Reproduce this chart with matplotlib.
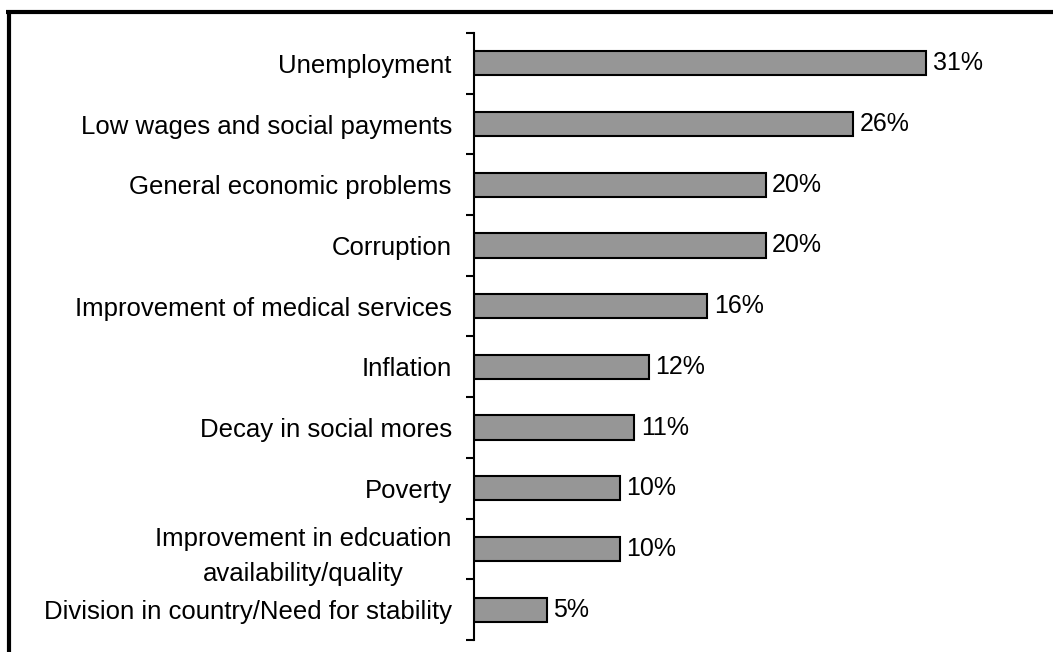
import matplotlib.pyplot as plt
from matplotlib.lines import Line2D

plt.rcParams['font.family'] = ['Liberation Sans', 'DejaVu Sans']

# Most important problems, share of respondents
categories = [
    "Unemployment",
    "Low wages and social payments",
    "General economic problems",
    "Corruption",
    "Improvement of medical services",
    "Inflation",
    "Decay in social mores",
    "Poverty",
    "Improvement in edcuation\navailability/quality",
    "Division in country/Need for stability",
]
values = [31, 26, 20, 20, 16, 12, 11, 10, 10, 5]

fig = plt.figure(figsize=(10.53, 6.52), dpi=100)
ax = fig.add_axes([474 / 1053, 1 - 640 / 652, 566 / 1053, 607 / 652])

pos = list(range(len(categories)))
ax.barh(pos, values, height=0.4, color="#969696", edgecolor="black", linewidth=1.5)
for y, v in zip(pos, values):
    ax.text(v + 0.45, y, f"{v}%", va="center", ha="left", fontsize=18)

ax.set_xlim(0, 566 / (452 / 31))
ax.set_ylim(len(categories) - 0.5, -0.5)
ax.set_yticks(pos)
ax.set_yticklabels(categories, fontsize=18.5, multialignment="center", linespacing=1.55)
ax.tick_params(axis="y", which="major", length=0, pad=16)
ax.set_yticks([p - 0.5 for p in pos] + [len(pos) - 0.5], minor=True)
ax.tick_params(axis="y", which="minor", length=6, width=1.5, color="black")
ax.set_xticks([])
for side in ("top", "right", "bottom"):
    ax.spines[side].set_visible(False)
ax.spines["left"].set_linewidth(1.5)

# frame lines along the top and left edges of the figure
fig.add_artist(Line2D([6 / 1053, 1], [1 - 12 / 652, 1 - 12 / 652], color="black", lw=3,
                      transform=fig.transFigure, solid_capstyle="butt"))
fig.add_artist(Line2D([8.5 / 1053, 8.5 / 1053], [0, 1 - 10 / 652], color="black", lw=3,
                      transform=fig.transFigure, solid_capstyle="butt"))

fig.savefig("out.png", dpi=100)
